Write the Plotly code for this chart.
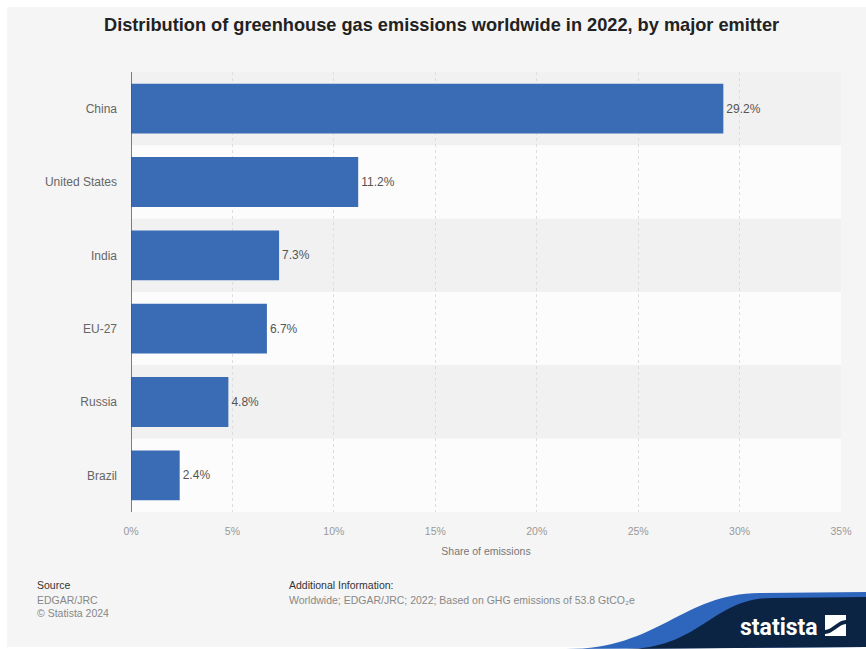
import plotly.graph_objects as go

countries = ["China", "United States", "India", "EU-27", "Russia", "Brazil"]
shares = [29.2, 11.2, 7.3, 6.7, 4.8, 2.4]
tick_vals = [0, 5, 10, 15, 20, 25, 30, 35]
tick_text = ["0%", "5%", "10%", "15%", "20%", "25%", "30%", "35%"]

W, H = 866, 649
L, R, T, B = 131, 841, 72, 512

def px(x):
    return (x - L) / (R - L)

def py(y):
    return (B - y) / (B - T)

fig = go.Figure()
fig.add_trace(go.Bar(
    x=shares, y=countries, orientation="h",
    marker=dict(color="#3a6cb6", line=dict(width=0)),
    text=[f"{v:.1f}%" for v in shares], textposition="outside",
    textfont=dict(family="Liberation Sans", size=12, color="#555555"),
    cliponaxis=False, hoverinfo="skip",
))

shapes = []
shapes.append(dict(type="rect", xref="paper", yref="paper", layer="below",
                   x0=px(7), x1=px(W), y0=py(647), y1=py(7),
                   fillcolor="#f5f5f5", line=dict(width=0)))
for i, c in enumerate(countries):
    shapes.append(dict(type="rect", xref="x domain", yref="y", layer="below",
                       x0=0, x1=1, y0=i - 0.5, y1=i + 0.5,
                       fillcolor="#f1f1f1" if i % 2 == 0 else "#fcfcfc",
                       line=dict(width=0)))

blue = (f"M {px(566)},{py(649)} C {px(660)},{py(649)} {px(680)},{py(594)} {px(760)},{py(593)} "
        f"L {px(866)},{py(592)} L {px(866)},{py(647)} Z")
navy = (f"M {px(626)},{py(649)} C {px(700)},{py(649)} {px(712)},{py(598)} {px(772)},{py(598)} "
        f"L {px(866)},{py(597)} L {px(866)},{py(647)} Z")
shapes.append(dict(type="path", xref="paper", yref="paper", path=blue,
                   fillcolor="#2e66bd", line=dict(width=0), layer="above"))
shapes.append(dict(type="path", xref="paper", yref="paper", path=navy,
                   fillcolor="#0c2443", line=dict(width=0), layer="above"))
shapes.append(dict(type="rect", xref="paper", yref="paper",
                   x0=px(825), x1=px(846), y0=py(636), y1=py(615),
                   fillcolor="white", line=dict(width=0), layer="above"))
icon = (f"M {px(825)},{py(630)} C {px(832)},{py(630)} {px(838)},{py(620)} {px(846)},{py(620)} "
        f"L {px(846)},{py(624)} C {px(839)},{py(624)} {px(833)},{py(634)} {px(825)},{py(634)} Z")
shapes.append(dict(type="path", xref="paper", yref="paper", path=icon,
                   fillcolor="#0c2443", line=dict(width=0), layer="above"))

ann = []
def txt(x, y, s, size=10, color="#888888", bold=False, xanchor="left", family="Liberation Sans"):
    ann.append(dict(xref="paper", yref="paper", x=px(x), y=py(y), text=f"<b>{s}</b>" if bold else s,
                    showarrow=False, xanchor=xanchor, yanchor="middle",
                    font=dict(family=family, size=size, color=color)))

txt(441, 25, "Distribution of greenhouse gas emissions worldwide in 2022, by major emitter",
    size=18.2, color="#222222", bold=True, xanchor="center")
txt(35, 585, "Source", size=10.5, color="#333333")
txt(35, 600, "EDGAR/JRC", size=10.5)
txt(35, 613, "© Statista 2024", size=10.5)
txt(287, 585, "Additional Information:", size=10.5, color="#333333")
txt(287, 600, "Worldwide; EDGAR/JRC; 2022; Based on GHG emissions of 53.8 GtCO₂e", size=10.5)
txt(779, 627, "statista", size=23, color="white", bold=True, xanchor="center", family="Roboto")

fig.update_layout(
    width=W, height=H,
    margin=dict(l=L, r=W - R, t=T, b=H - B),
    paper_bgcolor="white", plot_bgcolor="rgba(0,0,0,0)",
    showlegend=False, bargap=0.32,
    shapes=shapes, annotations=ann,
    font=dict(family="Liberation Sans"),
    xaxis=dict(range=[0, 35], tickvals=tick_vals, ticktext=tick_text,
               showgrid=True, gridcolor="#dddddd", griddash="3px,3px", gridwidth=1,
               zeroline=False, showline=False, ticks="", ticklabelstandoff=11,
               tickfont=dict(size=10.5, color="#999999"),
               title=dict(text="Share of emissions", font=dict(size=10.5, color="#777777"), standoff=12)),
    yaxis=dict(autorange="reversed", showgrid=False, zeroline=False,
               showline=False, ticks="", ticklabelstandoff=13,
               tickfont=dict(size=12, color="#666666")),
)
fig.add_shape(type="line", xref="x", yref="paper", x0=0, x1=0, y0=0, y1=1,
              line=dict(color="#555555", width=1.5), layer="above")

fig.write_html("out.html")
